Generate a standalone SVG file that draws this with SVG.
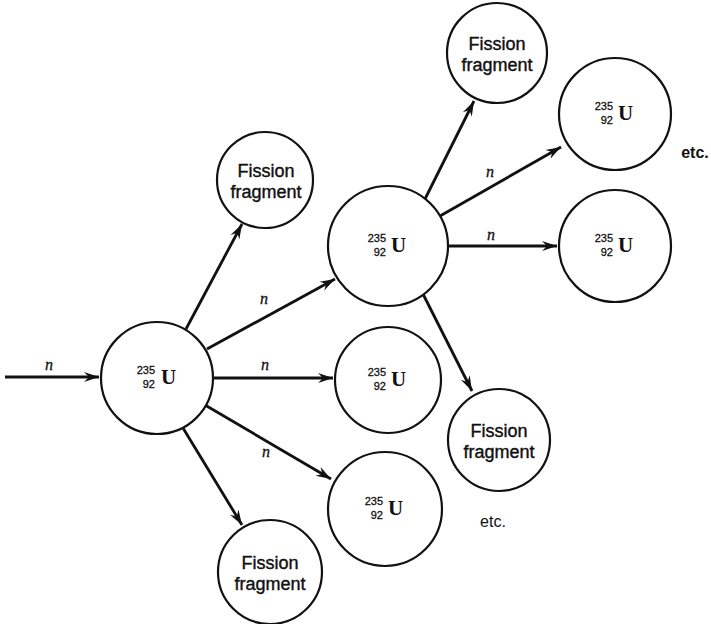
<svg xmlns="http://www.w3.org/2000/svg" width="711" height="624" viewBox="0 0 711 624">
  <style>
    .node circle { fill: #fff; stroke: #111; stroke-width: 2.2; }
    .edge { stroke: #111; stroke-width: 2.8; fill: none; marker-end: url(#head); }
    .ff { font-family: "Liberation Sans", Arial, sans-serif; font-size: 18px; fill: #111; stroke: #111; stroke-width: 0.4; text-anchor: middle; }
    .num { font-family: "Liberation Sans", Arial, sans-serif; font-size: 11px; fill: #111; stroke: #111; stroke-width: 0.3; text-anchor: end; }
    .sym { font-family: "Liberation Serif", "Times New Roman", serif; font-size: 21px; font-weight: bold; fill: #111; }
    .n { font-family: "Liberation Serif", "Times New Roman", serif; font-style: italic; font-size: 16px; fill: #111; stroke: #111; stroke-width: 0.3; text-anchor: middle; }
    .etc { font-family: "Liberation Sans", Arial, sans-serif; font-size: 16px; fill: #111; text-anchor: middle; }
  </style>
  <defs>
    <marker id="head" viewBox="-15 -6 17 12" markerWidth="17" markerHeight="12" refX="0" refY="0" orient="auto" markerUnits="userSpaceOnUse">
      <path d="M0,0 L-15,-5 L-10,0 L-15,5 Z" fill="#111"/>
    </marker>
  </defs>

  <!-- neutron paths and fragment paths -->
  <g id="connectors">
    <line class="edge" x1="5" y1="377" x2="99" y2="377"/>
    <line class="edge" x1="186" y1="329" x2="242" y2="224"/>
    <line class="edge" x1="207" y1="349" x2="335" y2="279"/>
    <line class="edge" x1="213" y1="378" x2="333" y2="378"/>
    <line class="edge" x1="205" y1="405" x2="331" y2="479"/>
    <line class="edge" x1="183" y1="428" x2="242" y2="525"/>
    <line class="edge" x1="425" y1="199" x2="474" y2="101"/>
    <line class="edge" x1="440" y1="216" x2="561" y2="147"/>
    <line class="edge" x1="448" y1="246" x2="557" y2="246"/>
    <line class="edge" x1="423" y1="294" x2="472" y2="391"/>
    <text class="n" x="49" y="370">n</text>
    <text class="n" x="264" y="304">n</text>
    <text class="n" x="265" y="370">n</text>
    <text class="n" x="266" y="457">n</text>
    <text class="n" x="490" y="177">n</text>
    <text class="n" x="491" y="240">n</text>
  </g>

  <!-- first uranium nucleus -->
  <g id="u1" class="node">
    <circle cx="157" cy="378" r="56"/>
    <text class="num" x="155" y="374">235</text>
    <text class="num" x="155" y="388">92</text>
    <text class="sym" x="161" y="384">U</text>
  </g>

  <g id="ff1" class="node">
    <circle cx="265" cy="180" r="48"/>
    <text class="ff" x="266" y="177">Fission</text>
    <text class="ff" x="266" y="198">fragment</text>
  </g>

  <g id="u2" class="node">
    <circle cx="388" cy="246" r="60"/>
    <text class="num" x="386" y="242">235</text>
    <text class="num" x="386" y="256">92</text>
    <text class="sym" x="391" y="252">U</text>
  </g>

  <g id="u3" class="node">
    <circle cx="388" cy="380" r="53"/>
    <text class="num" x="386" y="376">235</text>
    <text class="num" x="386" y="390">92</text>
    <text class="sym" x="391" y="386">U</text>
  </g>

  <g id="u4" class="node">
    <circle cx="385" cy="509" r="57"/>
    <text class="num" x="383" y="505">235</text>
    <text class="num" x="383" y="519">92</text>
    <text class="sym" x="388" y="515">U</text>
  </g>

  <g id="ff2" class="node">
    <circle cx="270" cy="572" r="52"/>
    <text class="ff" x="270" y="569">Fission</text>
    <text class="ff" x="270" y="590">fragment</text>
  </g>

  <g id="ff3" class="node">
    <circle cx="497" cy="53" r="50"/>
    <text class="ff" x="497" y="50">Fission</text>
    <text class="ff" x="497" y="71">fragment</text>
  </g>

  <g id="u5" class="node">
    <circle cx="615" cy="114" r="56"/>
    <text class="num" x="613" y="110">235</text>
    <text class="num" x="613" y="124">92</text>
    <text class="sym" x="618" y="120">U</text>
  </g>

  <g id="u6" class="node">
    <circle cx="615" cy="246" r="56"/>
    <text class="num" x="613" y="242">235</text>
    <text class="num" x="613" y="256">92</text>
    <text class="sym" x="618" y="252">U</text>
  </g>

  <g id="ff4" class="node">
    <circle cx="499" cy="440" r="51"/>
    <text class="ff" x="499" y="437">Fission</text>
    <text class="ff" x="499" y="458">fragment</text>
  </g>

  <text class="etc" x="695" y="158" font-weight="bold">etc.</text>
  <text class="etc" x="493" y="527">etc.</text>
</svg>
